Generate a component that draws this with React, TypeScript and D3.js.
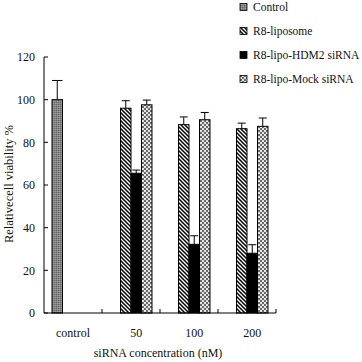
import React from "react";
import * as d3 from "d3";

const categories = ["control", "50", "100", "200"];
const seriesNames = ["Control", "R8-liposome", "R8-lipo-HDM2 siRNA", "R8-lipo-Mock siRNA"];
// values[series][category]; null = no bar
const controlVals: (number | null)[] = [100, null, null, null];
const controlErr: (number | null)[] = [9, null, null, null];
const liposomeVals: (number | null)[] = [null, 96, 88.3, 86.4];
const liposomeErr: (number | null)[] = [null, 3.5, 3.6, 2.6];
const hdm2Vals: (number | null)[] = [null, 65.5, 32.2, 28];
const hdm2Err: (number | null)[] = [null, 1.5, 4, 4];
const mockVals: (number | null)[] = [null, 97.6, 90.6, 87.5];
const mockErr: (number | null)[] = [null, 2.2, 3.4, 3.9];
const yTicks = [0, 20, 40, 60, 80, 100, 120];

const allVals = [controlVals, liposomeVals, hdm2Vals, mockVals];
const allErr = [controlErr, liposomeErr, hdm2Err, mockErr];
const fills = ["url(#pControl)", "url(#pLipo)", "#000", "url(#pMock)"];

const FONT = '"Liberation Serif", "DejaVu Serif", "Times New Roman", serif';

export default function App() {
  const W = 362, H = 362;
  const left = 44, right = 276, top = 57, bottom = 313;
  const y = d3.scaleLinear().domain([0, 120]).range([bottom, top]);
  const x0 = d3.scaleBand<string>().domain(categories).range([left, right]).padding(0);
  const bw = x0.bandwidth();
  const x1 = d3.scaleBand<string>().domain(seriesNames).range([bw * 0.138, bw * 0.862]).padding(0);
  const ts = { fontFamily: FONT, fill: "#111" } as React.CSSProperties;

  const bars: React.ReactNode[] = [];
  allVals.forEach((vals, si) => {
    vals.forEach((v, ci) => {
      if (v == null) return;
      const bx = x0(categories[ci])! + x1(seriesNames[si])!;
      const w = x1.bandwidth();
      const e = allErr[si][ci] ?? 0;
      const cx = bx + w / 2;
      const capW = si === 0 ? w : 8;
      bars.push(
        <g key={`${si}-${ci}`}>
          <line x1={cx} x2={cx} y1={y(v)} y2={y(v + e)} stroke="#000" strokeWidth={1} />
          <line x1={cx - capW / 2} x2={cx + capW / 2} y1={y(v + e)} y2={y(v + e)} stroke="#000" strokeWidth={1} />
          <rect x={bx} y={y(v)} width={w} height={bottom - y(v)} fill={fills[si]} stroke="#000" strokeWidth={1} />
        </g>
      );
    });
  });

  const labelX = (c: string, ci: number) => {
    const present = allVals.map((vals, si) => (vals[ci] != null ? si : -1)).filter((s) => s >= 0);
    if (present.length === 1) return x0(c)! + bw / 2;
    const a = x0(c)! + x1(seriesNames[present[0]])!;
    const b = x0(c)! + x1(seriesNames[present[present.length - 1]])! + x1.bandwidth();
    return (a + b) / 2;
  };

  return (
    <svg width={W} height={H} style={{ position: "absolute", left: 0, top: 0, background: "#fff" }}>
      <defs>
        <pattern id="pControl" width={2} height={2} patternUnits="userSpaceOnUse">
          <rect width={2} height={2} fill="#858585" />
          <rect width={1} height={1} fill="#666" />
          <rect x={1} y={1} width={1} height={1} fill="#9c9c9c" />
        </pattern>
        <pattern id="pLipo" width={4} height={4} patternUnits="userSpaceOnUse">
          <rect width={4} height={4} fill="#fff" />
          <path d="M-1,-1 L5,5 M-1,3 L1,5 M3,-1 L5,1" stroke="#000" strokeWidth={1.5} />
        </pattern>
        <pattern id="pMock" width={4} height={4} patternUnits="userSpaceOnUse">
          <rect width={4} height={4} fill="#e4e4e4" />
          <rect width={2} height={2} fill="#6a6a6a" />
          <rect x={2} y={2} width={2} height={2} fill="#6a6a6a" />
        </pattern>
      </defs>
      <rect width={W} height={H} fill="#fff" />
      {bars}
      <line x1={left} x2={left} y1={top} y2={bottom} stroke="#000" />
      <line x1={left} x2={right} y1={bottom} y2={bottom} stroke="#000" />
      {yTicks.map((t) => (
        <g key={t}>
          <line x1={left} x2={left + 4} y1={y(t)} y2={y(t)} stroke="#000" />
          <text x={left - 9} y={y(t)} dy="0.35em" textAnchor="end" fontSize={12} style={ts}>{t}</text>
        </g>
      ))}
      {categories.map((c) => (
        <line key={c} x1={x0(c)! + bw} x2={x0(c)! + bw} y1={bottom} y2={bottom - 4} stroke="#000" />
      ))}
      {categories.map((c, i) => (
        <text key={c} x={labelX(c, i)} y={337} textAnchor="middle" fontSize={12} style={ts}>{c}</text>
      ))}
      <text x={(left + right) / 2 - 2} y={357} textAnchor="middle" fontSize={12} style={ts}>siRNA concentration (nM)</text>
      <text transform={`translate(13, 184) rotate(-90)`} textAnchor="middle" fontSize={12.5} style={ts}>Relativecell viability %</text>
      {seriesNames.map((s, i) => (
        <g key={s} transform={`translate(240, ${7 + i * 24})`}>
          <rect x={0} y={-3.5} width={7} height={7} fill={fills[i]} stroke="#000" strokeWidth={0.8} />
          <text x={13} y={0} dy="0.35em" fontSize={11.5} style={ts}>{s}</text>
        </g>
      ))}
    </svg>
  );
}
